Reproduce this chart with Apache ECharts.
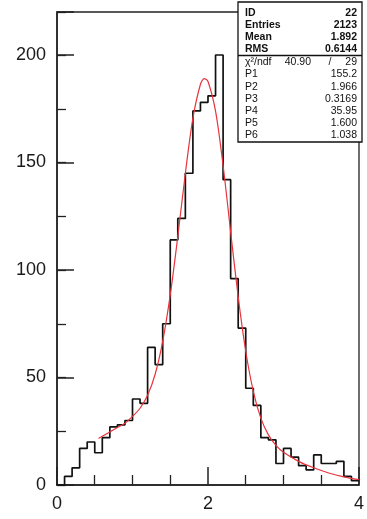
<!DOCTYPE html>
<html>
<head>
<meta charset="utf-8">
<script src="https://cdn.jsdelivr.net/npm/echarts@6/dist/echarts.min.js"></script>
<style>
html,body{margin:0;padding:0;background:#fff}
#hist{width:367px;height:519px}
</style>
</head>
<body>
<div id="hist"></div>
<script>
// histogram ID 22, 40 bins of 0.1 from 0 to 4
var binWidth = 0.1
var counts = [0, 4, 8, 17, 20, 15, 22, 27, 28, 30,
              40, 38, 64, 56, 75, 114, 124, 145, 174, 178,
              181, 200, 142, 96, 73, 45, 37, 22, 21, 10,
              17, 13, 9, 7, 14, 10, 10, 11, 4, 2]

// red fit curve
var fitX = [0.55, 0.7, 0.8, 0.9, 1.0, 1.1, 1.2, 1.3, 1.4, 1.5, 1.6, 1.7, 1.8, 1.9, 1.95,
            2.0, 2.1, 2.2, 2.3, 2.4, 2.5, 2.6, 2.7, 2.8, 2.9, 3.0, 3.2, 3.4, 3.6, 3.8, 4.0]
var fitY = [21.6, 24.7, 26.7, 28.7, 31.9, 35.7, 41.7, 51.5, 66.8, 88.4, 115.6, 144.9, 170.6, 186.4, 189.0,
            187.7, 173.9, 148.6, 117.7, 87.5, 62.2, 43.6, 31.1, 23.3, 18.4, 15.2, 11.0, 8.0, 5.6, 3.8, 2.5]

// stats box
var statNames = ['ID', 'Entries', 'Mean', 'RMS']
var statVals = ['22', '2123', '1.892', '0.6144']
var parNames = ['P1', 'P2', 'P3', 'P4', 'P5', 'P6']
var parVals = ['155.2', '1.966', '0.3169', '35.95', '1.600', '1.038']
var chi2 = '40.90'
var ndf = '29'

function drawHist(){
    var histData = []
    counts.forEach(function(val, index){
        histData.push([+(index * binWidth).toFixed(1), val])
    })
    histData.push([+(counts.length * binWidth).toFixed(1), counts[counts.length - 1]])

    var fitData = []
    fitX.forEach(function(x, i){
        fitData.push([x, fitY[i]])
    })

    var txt = {fontFamily: 'Liberation Sans', fontSize: 10.5, fontWeight: 'bold', fill: '#111'}
    var boxItems = [
        {type: 'rect', shape: {x: 238, y: 2, width: 124, height: 140},
         style: {fill: '#fff', stroke: '#111', lineWidth: 1.3}},
        {type: 'line', shape: {x1: 238, y1: 55.5, x2: 362, y2: 55.5},
         style: {stroke: '#111', lineWidth: 1.6}}
    ]
    statNames.forEach(function(name, i){
        var y = 13 + i * 12.2
        boxItems.push({type: 'text', x: 245, y: y, style: Object.assign({text: name, textVerticalAlign: 'middle'}, txt)})
        boxItems.push({type: 'text', x: 357, y: y, style: Object.assign({text: statVals[i], textAlign: 'right', textVerticalAlign: 'middle'}, txt)})
    })
    var txt2 = Object.assign({}, txt, {fontWeight: 'normal', fontSize: 10.5})
    boxItems.push({type: 'text', x: 245, y: 62, style: Object.assign({text: 'χ²/ndf', textVerticalAlign: 'middle'}, txt2)})
    boxItems.push({type: 'text', x: 311, y: 62, style: Object.assign({text: chi2, textAlign: 'right', textVerticalAlign: 'middle'}, txt2)})
    boxItems.push({type: 'text', x: 330, y: 62, style: Object.assign({text: '/', textAlign: 'center', textVerticalAlign: 'middle'}, txt2)})
    boxItems.push({type: 'text', x: 357, y: 62, style: Object.assign({text: ndf, textAlign: 'right', textVerticalAlign: 'middle'}, txt2)})
    parNames.forEach(function(name, i){
        var y = 74.5 + i * 12.2
        boxItems.push({type: 'text', x: 245, y: y, style: Object.assign({text: name, textVerticalAlign: 'middle'}, txt2)})
        boxItems.push({type: 'text', x: 357, y: y, style: Object.assign({text: parVals[i], textAlign: 'right', textVerticalAlign: 'middle'}, txt2)})
    })

    var myChart = echarts.init(document.getElementById('hist'))
    myChart.setOption({
        backgroundColor: '#fff',
        animation: false,
        grid: {
            left: 57, right: 5, top: 12, bottom: 34,
            show: true, borderColor: '#222', borderWidth: 1.3
        },
        xAxis: {
            type: 'value',
            min: 0, max: 4, interval: 2,
            axisLine: {lineStyle: {color: '#222', width: 1.6}},
            axisTick: {inside: true, length: 18, lineStyle: {color: '#222', width: 1.5}},
            minorTick: {show: true, splitNumber: 4, length: 10, lineStyle: {color: '#222', width: 1.3}},
            splitLine: {show: false},
            axisLabel: {color: '#1a1a1a', fontSize: 18, fontFamily: 'Liberation Sans', margin: 10}
        },
        yAxis: [
            {
                type: 'value',
                min: 0, max: 220, interval: 50,
                axisLine: {show: true, lineStyle: {color: '#222', width: 1.6}},
                axisTick: {show: true, inside: true, length: 17, lineStyle: {color: '#222', width: 1.5}},
                splitLine: {show: false},
                axisLabel: {
                    color: '#1a1a1a', fontSize: 18, fontFamily: 'Liberation Sans', margin: 11,
                    formatter: function(v){ return v % 50 === 0 ? String(v) : '' }
                }
            },
            {
                // the shorter ticks every 25
                type: 'value', position: 'left',
                min: 0, max: 220, interval: 25,
                axisLine: {show: false},
                axisTick: {show: true, inside: true, length: 9, lineStyle: {color: '#222', width: 1.3}},
                axisLabel: {show: false},
                splitLine: {show: false}
            }
        ],
        series: [
            {
                name: 'hist',
                type: 'line',
                step: 'end',
                symbol: 'none',
                lineStyle: {color: '#111', width: 1.7},
                data: histData,
                z: 2
            },
            {
                name: 'fit',
                type: 'line',
                smooth: 0.3,
                symbol: 'none',
                lineStyle: {color: '#e8343c', width: 1.2},
                data: fitData,
                z: 3
            }
        ],
        graphic: [{type: 'group', z: 100, children: boxItems}]
    }, true)
}

drawHist()
</script>
</body>
</html>
